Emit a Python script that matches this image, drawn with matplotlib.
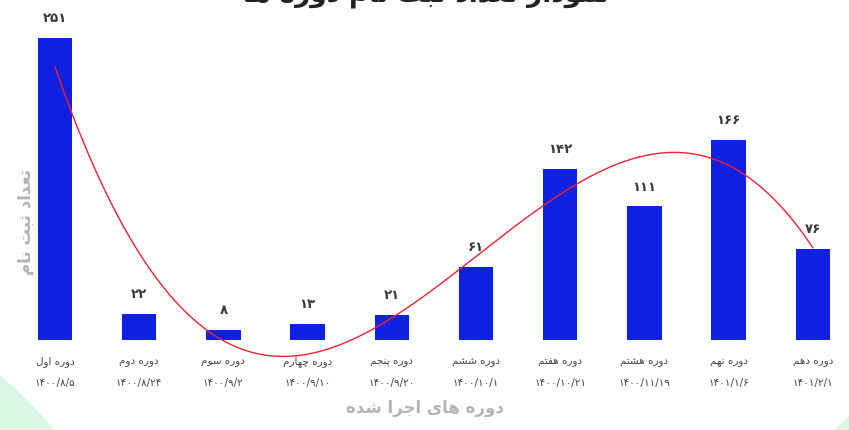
import numpy as np
import matplotlib
matplotlib.use("Agg")
import matplotlib.pyplot as plt
from matplotlib.patches import Circle

# ---------------- data ----------------
categories = ["دوره اول", "دوره دوم", "دوره سوم", "دوره چهارم", "دوره پنجم",
              "دوره ششم", "دوره هفتم", "دوره هشتم", "دوره نهم", "دوره دهم"]
dates = ["۱۴۰۰/۸/۵", "۱۴۰۰/۸/۲۴", "۱۴۰۰/۹/۲", "۱۴۰۰/۹/۱۰", "۱۴۰۰/۹/۲۰",
         "۱۴۰۰/۱۰/۱", "۱۴۰۰/۱۰/۲۱", "۱۴۰۰/۱۱/۱۹", "۱۴۰۱/۱/۶", "۱۴۰۱/۲/۱"]
values = [251, 22, 8, 13, 21, 61, 142, 111, 166, 76]
title = "نمودار تعداد ثبت نام دوره ها"
xlabel = "دوره های اجرا شده"
ylabel = "تعداد ثبت نام"

# ---------------- simple Arabic/Persian shaping ----------------
FORMS = {  # isolated, final, initial, medial
    'ا': ('\uFE8D', '\uFE8E', None, None),
    'ب': ('\uFE8F', '\uFE90', '\uFE91', '\uFE92'),
    'پ': ('\uFB56', '\uFB57', '\uFB58', '\uFB59'),
    'ت': ('\uFE95', '\uFE96', '\uFE97', '\uFE98'),
    'ث': ('\uFE99', '\uFE9A', '\uFE9B', '\uFE9C'),
    'ج': ('\uFE9D', '\uFE9E', '\uFE9F', '\uFEA0'),
    'چ': ('\uFB7A', '\uFB7B', '\uFB7C', '\uFB7D'),
    'د': ('\uFEA9', '\uFEAA', None, None),
    'ر': ('\uFEAD', '\uFEAE', None, None),
    'ز': ('\uFEAF', '\uFEB0', None, None),
    'س': ('\uFEB1', '\uFEB2', '\uFEB3', '\uFEB4'),
    'ش': ('\uFEB5', '\uFEB6', '\uFEB7', '\uFEB8'),
    'ع': ('\uFEC9', '\uFECA', '\uFECB', '\uFECC'),
    'ف': ('\uFED1', '\uFED2', '\uFED3', '\uFED4'),
    'ل': ('\uFEDD', '\uFEDE', '\uFEDF', '\uFEE0'),
    'م': ('\uFEE1', '\uFEE2', '\uFEE3', '\uFEE4'),
    'ن': ('\uFEE5', '\uFEE6', '\uFEE7', '\uFEE8'),
    'ه': ('\uFEE9', '\uFEEA', '\uFEEB', '\uFEEC'),
    'و': ('\uFEED', '\uFEEE', None, None),
    'ی': ('\uFBFC', '\uFBFD', '\uFBFE', '\uFBFF'),
}


def shape(text):
    chars = list(text)
    out = []
    for i, c in enumerate(chars):
        if c not in FORMS:
            out.append(c)
            continue
        iso, fin, ini, med = FORMS[c]
        prev = chars[i - 1] if i > 0 else None
        nxt = chars[i + 1] if i + 1 < len(chars) else None
        join_prev = prev in FORMS and FORMS[prev][2] is not None
        join_next = nxt in FORMS and ini is not None
        if join_prev and join_next:
            out.append(med)
        elif join_prev:
            out.append(fin)
        elif join_next:
            out.append(ini)
        else:
            out.append(iso)
    return ''.join(out)[::-1]


plt.rcParams['font.family'] = ['DejaVu Sans']

W, H = 849, 430
fig = plt.figure(figsize=(W / 100, H / 100), dpi=100)
fig.patch.set_facecolor('white')

# decorative corner shapes
deco = fig.add_axes([0, 0, 1, 1], zorder=-5)
deco.set_xlim(0, W)
deco.set_ylim(H, 0)
deco.axis('off')
deco.add_patch(Circle((-250, 680), 394, color='#d8f8e4', lw=0))
deco.add_patch(Circle((1100, 700), 379, color='#d8f8e4', lw=0))

# main axes
x0_px, dx_px, base_px, ppu = 55.0, 84.2, 340.0, 1.203
ax = fig.add_axes([0, (H - base_px) / H, 1, base_px / H])
ax.set_xlim(-x0_px / dx_px, (W - x0_px) / dx_px)
ax.set_ylim(0, base_px / ppu)
ax.axis('off')
ax.patch.set_alpha(0)

x = np.arange(len(values))
ax.bar(x, values, width=0.41, color='#1020E2', zorder=2)

fa_digits = str.maketrans('0123456789', '۰۱۲۳۴۵۶۷۸۹')
for xi, v in zip(x, values):
    ax.annotate(str(v).translate(fa_digits), (xi, v), xytext=(0, 14),
                textcoords='offset points', ha='center', va='center',
                fontsize=9.5, fontweight='bold', color='#3a3a3a')

# cubic polynomial trend line
coef = np.polyfit(x, values, 3)
xs = np.linspace(0, len(values) - 1, 300)
ax.plot(xs, np.polyval(coef, xs), color='#ee2233', lw=1.0, zorder=3,
        clip_on=False)

# category labels
for xi, c, d in zip(x, categories, dates):
    fig.text((x0_px + xi * dx_px) / W, 1 - 362 / H, shape(c), ha='center',
             va='center', fontsize=7.5, color='#444444')
    fig.text((x0_px + xi * dx_px) / W, 1 - 383 / H, d,
             ha='center', va='center', fontsize=7.5, color='#444444')

fig.text(425 / W, 1 - 408 / H, shape(xlabel), ha='center', va='center',
         fontsize=12, fontweight='bold', color='#b4b4b4')
fig.text(26 / W, 1 - 222 / H, shape(ylabel), ha='center', va='center',
         rotation=90, fontsize=12, fontweight='bold', color='#b4b4b4')
fig.text(425 / W, 1 + 5 / H, shape(title), ha='center', va='center',
         fontsize=19, fontweight='bold', color='#222222')

fig.savefig('out.png', dpi=100)
